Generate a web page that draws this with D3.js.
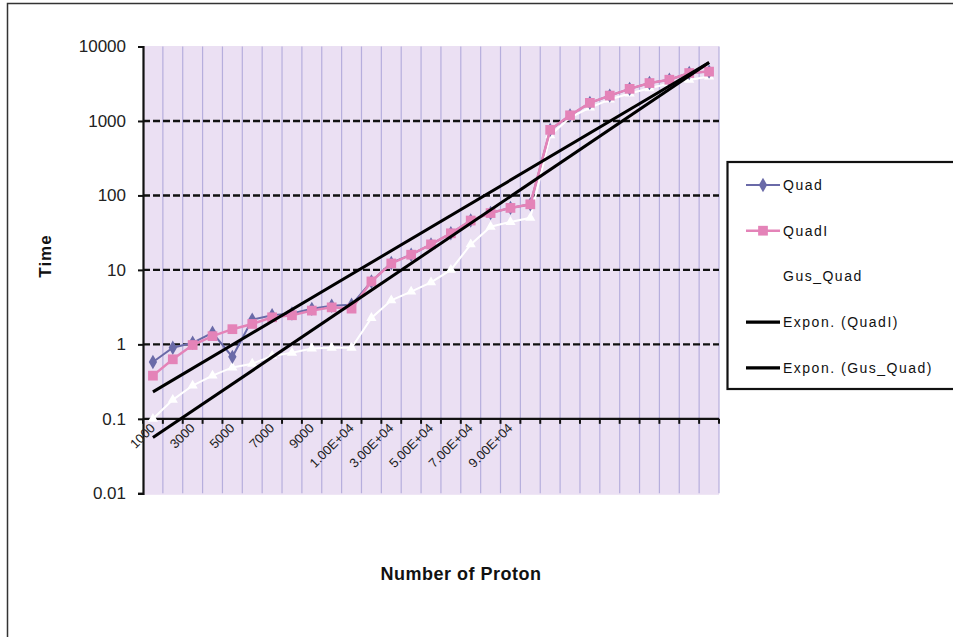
<!DOCTYPE html>
<html>
<head>
<meta charset="utf-8">
<script src="https://cdn.jsdelivr.net/npm/d3@7/dist/d3.min.js"></script>
<style>
  body { margin: 0; background: #fff; }
  svg { display: block; font-family: Arial, "Liberation Sans", sans-serif; }
</style>
</head>
<body>
<div id="chart"></div>
<script>
// category labels (blank ones have no label in the sheet)
var categories = ["1000", "2000", "3000", "4000", "5000", "6000", "7000", "8000", "9000", "10000",
    "1.00E+04", "2.00E+04", "3.00E+04", "4.00E+04", "5.00E+04", "6.00E+04", "7.00E+04", "8.00E+04", "9.00E+04",
    "", "", "", "", "", "", "", "", "", ""];

var quad = [0.58, 0.9, 1.05, 1.43, 0.68, 2.15, 2.46, 2.6, 3.0, 3.3, 3.4,
    7.0, 12.4, 16, 22, 31, 46, 58, 68, 76,
    760, 1190, 1750, 2190, 2700, 3230, 3580, 4400, 4600];
var quadI = [0.38, 0.63, 0.98, 1.29, 1.6, 1.88, 2.31, 2.46, 2.84, 3.14, 3.02,
    7.0, 12.2, 16, 22, 31, 46, 58, 68, 76,
    760, 1190, 1750, 2190, 2700, 3230, 3580, 4400, 4600];
var gusQuad = [0.1, 0.18, 0.28, 0.38, 0.49, 0.55, 0.7, 0.77, 0.88, 0.9, 0.9,
    2.26, 3.9, 5.1, 6.8, 10, 22, 38, 44, 50,
    640, 1110, 1510, 1940, 2340, 2750, 3180, 3560, 3960];

// exponential trendlines: value at first and last category
var trendQuadI = [0.23, 6100];
var trendGusQuad = [0.056, 6100];

var yTicks = [0.01, 0.1, 1, 10, 100, 1000, 10000];
var yGrid = [1, 10, 100, 1000];
var legendNames = ["Quad", "QuadI", "Gus_Quad", "Expon. (QuadI)", "Expon. (Gus_Quad)"];

var W = 953, H = 637;
var plotLeft = 143, plotRight = 719, plotTop = 46.5, plotBottom = 493.3;

var svg = d3.select("#chart").append("svg").attr("width", W).attr("height", H);

// chart frame (cut off at right/bottom)
svg.append("rect")
    .attr("x", 7.5).attr("y", 3.5).attr("width", 1000).attr("height", 700)
    .attr("fill", "#fff").attr("stroke", "#333").attr("stroke-width", 1.5);

var x = d3.scaleBand().domain(d3.range(categories.length)).range([plotLeft, plotRight]).paddingInner(0).paddingOuter(0);
var bw = x.bandwidth();
var cx = function (i) { return x(i) + bw / 2; };
var y = d3.scaleLog().domain([0.01, 10000]).range([plotBottom, plotTop]);

// plot background
svg.append("rect")
    .attr("x", plotLeft).attr("y", plotTop - 0.5).attr("width", plotRight - plotLeft).attr("height", plotBottom - plotTop + 2)
    .attr("fill", "#ebe0f3");

// vertical gridlines
svg.append("g").selectAll("line")
    .data(d3.range(1, categories.length + 1))
    .enter().append("line")
    .attr("x1", function (k) { return plotLeft + k * bw; })
    .attr("x2", function (k) { return plotLeft + k * bw; })
    .attr("y1", plotTop).attr("y2", plotBottom)
    .attr("stroke", "#b6aedd").attr("stroke-width", 1.2);

// dashed horizontal gridlines
svg.append("g").selectAll("line")
    .data(yGrid)
    .enter().append("line")
    .attr("x1", plotLeft).attr("x2", plotRight)
    .attr("y1", function (d) { return y(d); })
    .attr("y2", function (d) { return y(d); })
    .attr("stroke", "#111").attr("stroke-width", 2.4)
    .attr("stroke-dasharray", "7,3");

// y axis
var yAxis = svg.append("g").attr("transform", "translate(" + plotLeft + ",0)")
    .call(d3.axisLeft(y).tickValues(yTicks).tickSize(5).tickPadding(12)
        .tickFormat(function (d) { return String(d); }));
yAxis.select(".domain").attr("stroke", "#111").attr("stroke-width", 2.2);
yAxis.selectAll(".tick line").attr("stroke", "#111").attr("stroke-width", 2);
yAxis.selectAll("text").attr("font-size", 17).attr("fill", "#222")
    .attr("font-family", "Arial, 'Liberation Sans', sans-serif");

// x axis crossing at 0.1
var xAxisY = y(0.1);
var xg = svg.append("g");
xg.append("line")
    .attr("x1", plotLeft).attr("x2", plotRight).attr("y1", xAxisY).attr("y2", xAxisY)
    .attr("stroke", "#111").attr("stroke-width", 2.2);
xg.selectAll("line.tk")
    .data(d3.range(0, categories.length + 1))
    .enter().append("line").attr("class", "tk")
    .attr("x1", function (k) { return plotLeft + k * bw; })
    .attr("x2", function (k) { return plotLeft + k * bw; })
    .attr("y1", xAxisY).attr("y2", xAxisY + 5)
    .attr("stroke", "#111").attr("stroke-width", 2);
xg.selectAll("text")
    .data(categories.map(function (c, i) { return { c: c, i: i }; })
        .filter(function (d) { return d.i % 2 === 0 && d.c !== ""; }))
    .enter().append("text")
    .attr("transform", function (d) {
        return "translate(" + (cx(d.i) + 3) + "," + (xAxisY + 10) + ") rotate(-45)";
    })
    .attr("text-anchor", "end")
    .attr("font-size", 13)
    .attr("fill", "#222")
    .text(function (d) { return d.c; });

// trendlines
function trend(vals) {
    return [{ i: 0, v: vals[0] }, { i: categories.length - 1, v: vals[1] }];
}
var tline = d3.line().x(function (d) { return cx(d.i); }).y(function (d) { return y(d.v); });

// series
var line = d3.line().x(function (d, i) { return cx(i); }).y(function (d) { return y(d); });

function drawSeries(vals, color, width, symbol, size, fill) {
    svg.append("path").attr("d", line(vals))
        .attr("fill", "none").attr("stroke", color).attr("stroke-width", width);
    svg.append("g").selectAll("path")
        .data(vals)
        .enter().append("path")
        .attr("transform", function (d, i) { return "translate(" + cx(i) + "," + y(d) + ")"; })
        .attr("d", d3.symbol().type(symbol).size(size))
        .attr("fill", fill);
}

drawSeries(gusQuad, "#ffffff", 2, d3.symbolTriangle, 45, "#ffffff");
drawSeries(quad, "#6a6aa8", 2, d3.symbolDiamond, 60, "#6a6aa8");
drawSeries(quadI, "#e483b8", 2.5, d3.symbolSquare, 95, "#e483b8");

[trendQuadI, trendGusQuad].forEach(function (t) {
    svg.append("path").attr("d", tline(trend(t)))
        .attr("fill", "none").attr("stroke", "#000").attr("stroke-width", 3);
});

// legend
var lg = svg.append("g");
lg.append("rect")
    .attr("x", 727.5).attr("y", 162).attr("width", 300).attr("height", 227)
    .attr("fill", "#fff").attr("stroke", "#111").attr("stroke-width", 2.2);
var legendStyle = [
    { color: "#6a6aa8", w: 2, sym: d3.symbolDiamond, size: 60 },
    { color: "#e483b8", w: 2.5, sym: d3.symbolSquare, size: 95 },
    { color: "#ffffff", w: 2, sym: d3.symbolTriangle, size: 45 },
    { color: "#000", w: 3.2, sym: null },
    { color: "#000", w: 3.2, sym: null }
];
legendNames.forEach(function (name, i) {
    var ly = 185 + i * 45.7;
    var s = legendStyle[i];
    lg.append("line").attr("x1", 746).attr("x2", 780).attr("y1", ly).attr("y2", ly)
        .attr("stroke", s.color).attr("stroke-width", s.w);
    if (s.sym) {
        lg.append("path").attr("transform", "translate(763," + ly + ")")
            .attr("d", d3.symbol().type(s.sym).size(s.size)).attr("fill", s.color);
    }
    lg.append("text").attr("x", 783).attr("y", ly + 5)
        .attr("font-size", 14).attr("letter-spacing", "1.5px").attr("fill", "#111")
        .text(name);
});

// axis titles
svg.append("text")
    .attr("x", 461).attr("y", 580)
    .attr("text-anchor", "middle").attr("font-size", 18).attr("font-weight", "bold")
    .attr("letter-spacing", "0.5px").attr("fill", "#111")
    .text("Number of Proton");
svg.append("text")
    .attr("transform", "translate(51,256) rotate(-90)")
    .attr("text-anchor", "middle").attr("font-size", 17).attr("font-weight", "bold")
    .attr("letter-spacing", "1px").attr("fill", "#111")
    .text("Time");
</script>
</body>
</html>
